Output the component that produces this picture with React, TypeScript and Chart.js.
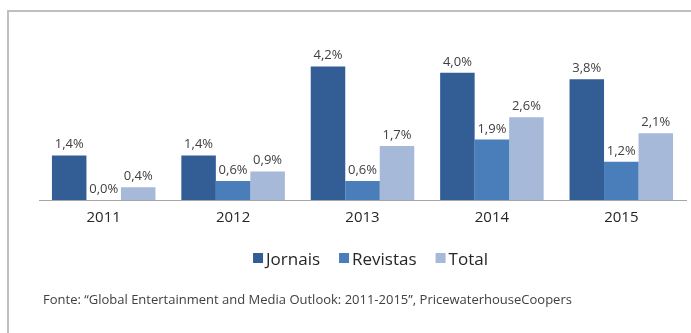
import React, { useEffect, useRef } from "react";
import { Chart, registerables } from "chart.js";

Chart.register(...registerables);

const categories = ["2011", "2012", "2013", "2014", "2015"];
const jornais = [1.4, 1.4, 4.2, 4.0, 3.8];
const revistas = [0.0, 0.6, 0.6, 1.9, 1.2];
const total = [0.4, 0.9, 1.7, 2.6, 2.1];
const seriesNames = ["Jornais", "Revistas", "Total"];
const seriesColors = ["#335E95", "#4A7EBB", "#A6B9D9"];
const sourceNote =
  "Fonte: \u201CGlobal Entertainment and Media Outlook: 2011-2015\u201D, PricewaterhouseCoopers";

const FONT = "'Open Sans', 'Noto Sans', sans-serif";

const fmt = (v: number) => v.toFixed(1).replace(".", ",") + "%";

const labelsPlugin = {
  id: "valueLabels",
  afterDatasetsDraw(chart: any) {
    const ctx = chart.ctx;
    ctx.save();
    ctx.font = `13px ${FONT}`;
    ctx.fillStyle = "#404040";
    ctx.textAlign = "center";
    ctx.textBaseline = "alphabetic";
    chart.data.datasets.forEach((ds: any, di: number) => {
      const meta = chart.getDatasetMeta(di);
      meta.data.forEach((el: any, i: number) => {
        ctx.fillText(fmt(ds.data[i]), el.x, el.y - 7);
      });
    });
    ctx.restore();
  },
  afterDraw(chart: any) {
    const ctx = chart.ctx;
    const area = chart.chartArea;
    ctx.save();
    // legend
    ctx.font = `17px ${FONT}`;
    ctx.textBaseline = "alphabetic";
    ctx.textAlign = "left";
    const box = 10;
    const gap = 3;
    const spacing = 19;
    const items = chart.data.datasets.map((ds: any) => ({
      label: ds.label,
      color: ds.backgroundColor,
      w: ctx.measureText(ds.label).width,
    }));
    const totalW =
      items.reduce((s: number, it: any) => s + box + gap + it.w, 0) +
      spacing * (items.length - 1);
    const cx = (area.left + area.right) / 2 + 8;
    let x = cx - totalW / 2;
    const baseY = 265;
    items.forEach((it: any) => {
      ctx.fillStyle = it.color;
      ctx.fillRect(x, baseY - 12, box, box);
      x += box + gap;
      ctx.fillStyle = "#262626";
      ctx.fillText(it.label, x, baseY);
      x += it.w + spacing;
    });
    // source note
    ctx.font = `13px ${FONT}`;
    ctx.fillStyle = "#404040";
    ctx.fillText(sourceNote, 43, 304);
    ctx.restore();
  },
};

export default function App() {
  const ref = useRef<HTMLCanvasElement | null>(null);

  useEffect(() => {
    if (!ref.current) return;
    const chart = new Chart(ref.current, {
      type: "bar",
      data: {
        labels: categories,
        datasets: [
          { label: seriesNames[0], data: jornais, backgroundColor: seriesColors[0] },
          { label: seriesNames[1], data: revistas, backgroundColor: seriesColors[1] },
          { label: seriesNames[2], data: total, backgroundColor: seriesColors[2] },
        ],
      },
      options: {
        responsive: false,
        animation: false,
        layout: { padding: { left: 39, right: 5, top: 41, bottom: 97 } },
        datasets: {
          bar: { categoryPercentage: 0.8, barPercentage: 1.0, borderWidth: 0 },
        },
        plugins: {
          legend: { display: false },
          tooltip: { enabled: false },
        },
        scales: {
          x: {
            grid: { display: false, drawTicks: false },
            border: { display: true, color: "#A6A6A6", width: 1 },
            ticks: {
              padding: 9,
              color: "#262626",
              font: { family: FONT, size: 15 },
            },
          },
          y: { display: false, min: 0, max: 5 },
        },
      },
      plugins: [labelsPlugin],
    });
    return () => chart.destroy();
  }, []);

  return (
    <div
      style={{
        position: "absolute",
        left: 0,
        top: 0,
        width: 691,
        height: 333,
        background: "#ffffff",
        overflow: "hidden",
      }}
    >
      <canvas ref={ref} width={691} height={333} style={{ display: "block" }} />
      <div
        style={{
          position: "absolute",
          left: 7,
          top: 10,
          width: 700,
          height: 340,
          borderLeft: "2px solid #BFBFBF",
          borderTop: "2px solid #BFBFBF",
          pointerEvents: "none",
        }}
      />
    </div>
  );
}
